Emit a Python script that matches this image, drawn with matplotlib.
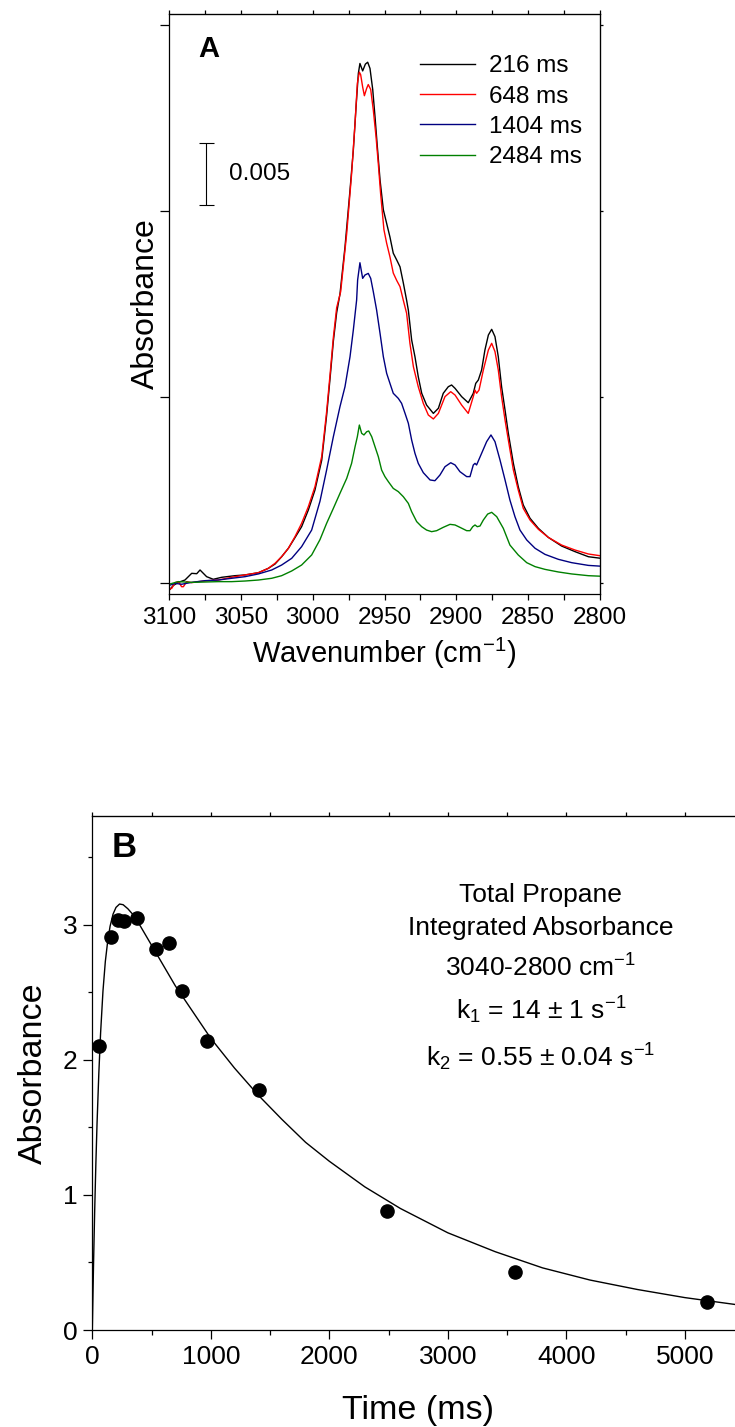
import matplotlib
matplotlib.use('Agg')
import matplotlib.pyplot as plt
from matplotlib.ticker import MultipleLocator, NullFormatter

plt.rcParams['font.family'] = ['Liberation Sans', 'DejaVu Sans']
plt.rcParams['mathtext.fontset'] = 'custom'
plt.rcParams['mathtext.rm'] = 'Liberation Sans'
plt.rcParams['mathtext.it'] = 'Liberation Sans:italic'
plt.rcParams['mathtext.bf'] = 'Liberation Sans:bold'

# ---- panel A: spectra (absorbance in units of 1e-3) ----
wn_216 = [3100, 3097, 3093.5, 3088.9, 3084.2, 3080.7, 3078.4, 3076.1, 3073.8, 3069.2,
          3063.3, 3054.1, 3047.1, 3037.8, 3030.9, 3026.2, 3021.6, 3016.9, 3012.3, 3007.7,
          3003.0, 2998.4, 2993.7, 2990.3, 2987.9, 2985.6, 2983.3, 2981.0, 2977.5, 2974.0,
          2971.7, 2969.8, 2968.2, 2967.1, 2965.2, 2963.3, 2961.7, 2960.1, 2958.2, 2956.6,
          2955.0, 2953.1, 2950.8, 2948.5, 2946.2, 2943.9, 2941.5, 2939.2, 2936.9, 2934.6,
          2933.4, 2931.1, 2928.8, 2926.5, 2924.1, 2920.7, 2916.0, 2912.5, 2909.1, 2905.6,
          2903.3, 2900.9, 2896.3, 2891.7, 2888.2, 2886.5, 2884.7, 2882.4, 2880.1, 2877.7,
          2875.4, 2873.1, 2870.8, 2868.5, 2866.1, 2863.8, 2860.3, 2856.9, 2853.4, 2848.7,
          2842.9, 2836.0, 2826.7, 2817.4, 2808.1, 2800]
abs_216 = [-0.6, -0.2, 0.05, 0.24, 0.78, 0.75, 1.05, 0.78, 0.51, 0.30,
           0.46, 0.59, 0.65, 0.83, 1.18, 1.53, 2.12, 2.80, 3.66, 4.54,
           5.89, 7.50, 9.9, 13.5, 16.5, 19.5, 21.8, 23.3, 27.1, 31.7,
           34.9, 38.4, 41.1, 41.9, 41.3, 41.85, 42.0, 41.5, 39.8, 37.6,
           35.2, 32.5, 30.1, 29.0, 27.9, 26.6, 26.05, 25.5, 24.2, 22.8,
           22.0, 19.6, 18.25, 16.64, 15.30, 14.35, 13.68, 14.09, 15.30, 15.83,
           15.97, 15.70, 15.03, 14.54, 15.30, 16.10, 16.37, 17.18, 18.79, 20.0,
           20.46, 19.87, 18.25, 15.83, 13.95, 12.07, 9.65, 7.77, 6.29, 5.22,
           4.41, 3.68, 2.98, 2.53, 2.12, 2.0]

wn_648 = [3100, 3098.1, 3095.8, 3093.5, 3091.2, 3090.0, 3087.7, 3084.2, 3079.6, 3072.6,
          3065.7, 3056.4, 3047.1, 3037.8, 3030.9, 3026.2, 3021.6, 3016.9, 3012.3, 3007.7,
          3003.0, 2998.4, 2993.7, 2990.3, 2987.9, 2985.6, 2983.3, 2980.5, 2976.3, 2972.9,
          2970.5, 2968.9, 2967.5, 2966.6, 2965.2, 2964.0, 2962.4, 2961.3, 2959.6, 2957.8,
          2955.9, 2954.3, 2952.7, 2950.4, 2948.5, 2946.2, 2943.9, 2941.5, 2939.2, 2936.9,
          2934.6, 2932.3, 2929.9, 2926.5, 2923.0, 2919.5, 2916.0, 2912.5, 2907.9, 2903.9,
          2900.9, 2896.3, 2891.7, 2888.2, 2887.0, 2885.9, 2884.2, 2881.2, 2877.7, 2875.4,
          2873.1, 2870.8, 2868.5, 2866.1, 2863.8, 2860.3, 2856.9, 2853.4, 2848.7, 2842.9,
          2836.0, 2826.7, 2817.4, 2808.1, 2800]
abs_648 = [-0.5, -0.43, 0.03, 0.11, -0.30, -0.30, 0.11, 0.03, 0.11, 0.19,
           0.24, 0.46, 0.65, 0.83, 1.18, 1.59, 2.12, 2.80, 3.74, 4.81,
           6.16, 7.77, 10.2, 13.8, 16.8, 19.8, 22.2, 23.5, 28.2, 33.0,
           37.1, 40.3, 41.2, 41.0, 40.0, 39.3, 39.9, 40.2, 39.8, 38.15,
           36.0, 33.8, 31.4, 28.5, 27.4, 26.3, 25.0, 24.4, 23.9, 22.8,
           21.75, 19.33, 17.45, 15.83, 14.49, 13.55, 13.23, 13.68, 15.03, 15.43,
           15.16, 14.35, 13.68, 15.03, 15.56, 15.30, 15.56, 17.18, 18.79, 19.33,
           18.66, 17.18, 15.03, 13.15, 11.53, 9.11, 7.50, 6.02, 5.08, 4.33,
           3.68, 3.06, 2.66, 2.34, 2.2]

wn_1404 = [3100, 3095.8, 3091.2, 3084.2, 3074.9, 3065.7, 3056.4, 3047.1, 3037.8, 3028.5,
           3021.6, 3014.6, 3007.7, 3000.7, 2994.9, 2990.3, 2985.6, 2981.0, 2977.5, 2974.0,
           2971.7, 2969.4, 2968.7, 2967.1, 2965.2, 2963.6, 2961.3, 2959.6, 2957.8, 2955.5,
           2953.1, 2950.8, 2948.5, 2946.2, 2943.9, 2940.4, 2938.1, 2935.7, 2933.4, 2931.1,
           2928.8, 2926.5, 2923.0, 2918.3, 2914.9, 2911.4, 2907.9, 2903.9, 2900.9, 2897.5,
           2892.8, 2890.5, 2888.2, 2887.0, 2885.9, 2882.4, 2878.9, 2875.9, 2873.1, 2869.6,
           2866.1, 2862.7, 2859.2, 2855.7, 2851.0, 2845.2, 2838.3, 2829.0, 2819.7, 2808.1,
           2800]
abs_1404 = [-0.2, -0.03, -0.1, 0.05, 0.19, 0.24, 0.38, 0.51, 0.73, 1.05,
            1.45, 1.99, 2.93, 4.27, 6.6, 9.11, 11.8, 14.22, 15.83, 18.25,
            20.4, 22.82, 24.44, 25.83, 24.57, 24.84, 24.97, 24.57, 23.5, 22.02,
            20.13, 18.25, 16.91, 16.10, 15.30, 14.89, 14.49, 13.68, 12.88, 11.53,
            10.46, 9.65, 8.90, 8.31, 8.25, 8.71, 9.38, 9.70, 9.52, 8.98,
            8.58, 8.58, 9.52, 9.65, 9.52, 10.46, 11.40, 11.94, 11.40, 9.92,
            8.31, 6.69, 5.35, 4.27, 3.47, 2.80, 2.31, 1.91, 1.64, 1.42,
            1.36]

wn_2484 = [3100, 3093.5, 3084.2, 3074.9, 3065.7, 3056.4, 3047.1, 3037.8, 3028.5, 3021.6,
           3014.6, 3007.7, 3000.7, 2994.9, 2990.3, 2985.6, 2981.0, 2976.3, 2972.9, 2970.5,
           2968.9, 2967.5, 2965.9, 2964.3, 2962.4, 2961.0, 2958.9, 2956.6, 2954.3, 2952.0,
           2949.7, 2947.3, 2943.9, 2940.4, 2936.9, 2933.4, 2931.1, 2927.6, 2924.1, 2920.7,
           2917.2, 2913.7, 2909.1, 2904.4, 2900.9, 2897.5, 2892.8, 2890.5, 2888.6, 2887.0,
           2885.4, 2883.5, 2881.2, 2878.2, 2875.4, 2871.9, 2867.3, 2862.7, 2856.9, 2851.0,
           2845.2, 2838.3, 2829.0, 2819.7, 2808.1, 2800]
abs_2484 = [-0.1, 0.11, 0.05, 0.08, 0.11, 0.11, 0.16, 0.24, 0.38, 0.59,
            0.97, 1.45, 2.26, 3.5, 4.81, 6.02, 7.23, 8.44, 9.65, 10.99,
            11.80, 12.74, 12.07, 11.94, 12.20, 12.26, 11.80, 10.99, 10.19, 9.11,
            8.58, 8.17, 7.63, 7.37, 6.96, 6.42, 5.75, 4.95, 4.54, 4.27,
            4.14, 4.22, 4.49, 4.73, 4.68, 4.49, 4.22, 4.22, 4.54, 4.68,
            4.54, 4.6, 5.08, 5.56, 5.70, 5.35, 4.41, 3.06, 2.26, 1.64,
            1.32, 1.10, 0.89, 0.73, 0.59, 0.55]

spec_labels = ['216 ms', '648 ms', '1404 ms', '2484 ms']
spec_colors = ['black', '#ff0000', '#000080', '#008000']

# ---- panel B: integrated absorbance vs time ----
time_ms = [54, 162, 216, 270, 378, 540, 648, 756, 972, 1404, 2484, 3564, 5184]
integ_abs = [2.10, 2.91, 3.04, 3.03, 3.05, 2.82, 2.87, 2.51, 2.14, 1.78, 0.88, 0.43, 0.205]

fit_t = [0, 10, 20, 30, 40, 55, 70, 90, 110, 130, 150, 175, 200, 230, 260, 300, 350, 400,
         500, 600, 700, 800, 1000, 1200, 1400, 1600, 1800, 2000, 2300, 2600, 3000, 3400,
         3800, 4200, 4600, 5000, 5500]
fit_abs = [0, 0.47, 0.88, 1.23, 1.53, 1.90, 2.20, 2.51, 2.73, 2.88, 2.99, 3.08, 3.13, 3.155,
           3.15, 3.12, 3.07, 3.00, 2.85, 2.70, 2.55, 2.42, 2.16, 1.94, 1.74, 1.56, 1.39, 1.25,
           1.06, 0.90, 0.72, 0.58, 0.46, 0.37, 0.30, 0.24, 0.18]

W, H = 735, 1427
fig = plt.figure(figsize=(W / 100, H / 100), dpi=100)

# panel A
axA = fig.add_axes([169 / W, 1 - 594 / H, 431 / W, 580 / H])
spectra = [(wn_216, abs_216), (wn_648, abs_648), (wn_1404, abs_1404), (wn_2484, abs_2484)]
for (wn, ab), lab, col in zip(spectra, spec_labels, spec_colors):
    axA.plot(wn, ab, color=col, lw=1.0, label=lab)

axA.set_xlim(3100, 2800)
axA.set_ylim(-0.887, 45.89)
axA.xaxis.set_major_locator(MultipleLocator(50))
axA.xaxis.set_minor_locator(MultipleLocator(25))
axA.set_yticks([0, 15, 30, 45])
axA.yaxis.set_major_formatter(NullFormatter())
axA.tick_params(axis='x', which='major', direction='out', length=4.3, width=0.9,
                labelsize=17.5, pad=5)
axA.tick_params(axis='x', which='minor', direction='out', length=4.3, width=0.9)
axA.tick_params(axis='y', which='major', direction='out', length=6.5, width=0.9)
for s in axA.spines.values():
    s.set_linewidth(0.9)

topA = axA.secondary_xaxis('top')
topA.xaxis.set_major_locator(MultipleLocator(50))
topA.xaxis.set_minor_locator(MultipleLocator(25))
topA.tick_params(which='both', direction='out', length=2.9, width=0.9, labeltop=False)
rightA = axA.secondary_yaxis('right')
rightA.set_yticks([0, 15, 30, 45])
rightA.tick_params(direction='out', length=2.2, width=0.9, labelright=False)

axA.set_xlabel('Wavenumber (cm$^{-1}$)', fontsize=21, labelpad=5)
axA.set_ylabel('Absorbance', fontsize=23)
axA.yaxis.set_label_coords(-0.019, 0.5)

axA.text(0.093, 0.94, 'A', transform=axA.transAxes, fontsize=21, fontweight='bold',
         ha='center', va='center')

# scale bar of 0.005 (5 units of 1e-3)
axA.errorbar([3074], [33.0], yerr=[2.5], color='black', lw=0.8, capsize=5.4,
             capthick=0.8)
axA.text(3058, 33.0, '0.005', fontsize=17.5, ha='left', va='center')

axA.legend(loc='upper left', bbox_to_anchor=(0.583, 0.929), frameon=False,
           fontsize=17.5, handlelength=2.26, handletextpad=0.58, labelspacing=0.345,
           borderpad=0, borderaxespad=0)

# panel B
axB = fig.add_axes([92.3 / W, 1 - 1330 / H, 651.75 / W, 514 / H])
axB.plot(fit_t, fit_abs, color='black', lw=1.0)
axB.plot(time_ms, integ_abs, 'o', color='black', ms=9.5)

axB.set_xlim(0, 5500)
axB.set_ylim(0, 3.807)
axB.xaxis.set_major_locator(MultipleLocator(1000))
axB.xaxis.set_minor_locator(MultipleLocator(500))
axB.yaxis.set_major_locator(MultipleLocator(1))
axB.yaxis.set_minor_locator(MultipleLocator(0.5))
axB.tick_params(which='major', direction='out', length=6.5, width=0.9, labelsize=19, pad=4)
axB.tick_params(axis='x', which='minor', direction='out', length=3.6, width=0.9)
axB.tick_params(axis='y', which='minor', direction='out', length=2.9, width=0.9)
axB.spines['right'].set_visible(False)
for s in axB.spines.values():
    s.set_linewidth(0.9)

topB = axB.secondary_xaxis('top')
topB.xaxis.set_major_locator(MultipleLocator(500))
topB.tick_params(direction='out', length=2.9, width=0.9, labeltop=False)

axB.set_xlabel('Time (ms)', fontsize=24.5, labelpad=19)
axB.set_ylabel('Absorbance', fontsize=24.5, labelpad=10)

axB.text(0.0486, 0.9387, 'B', transform=axB.transAxes, fontsize=25, fontweight='bold',
         ha='center', va='center')

info_lines = ['Total Propane', 'Integrated Absorbance', '3040-2800 cm$^{-1}$',
              'k$_1$ = 14 \u00b1 1 s$^{-1}$', 'k$_2$ = 0.55 \u00b1 0.04 s$^{-1}$']
info_y = [3.22, 2.98, 2.68, 2.37, 2.02]
for line, yv in zip(info_lines, info_y):
    axB.text(3785, yv, line, fontsize=19, ha='center', va='center')

fig.savefig('out.png', dpi=100)
